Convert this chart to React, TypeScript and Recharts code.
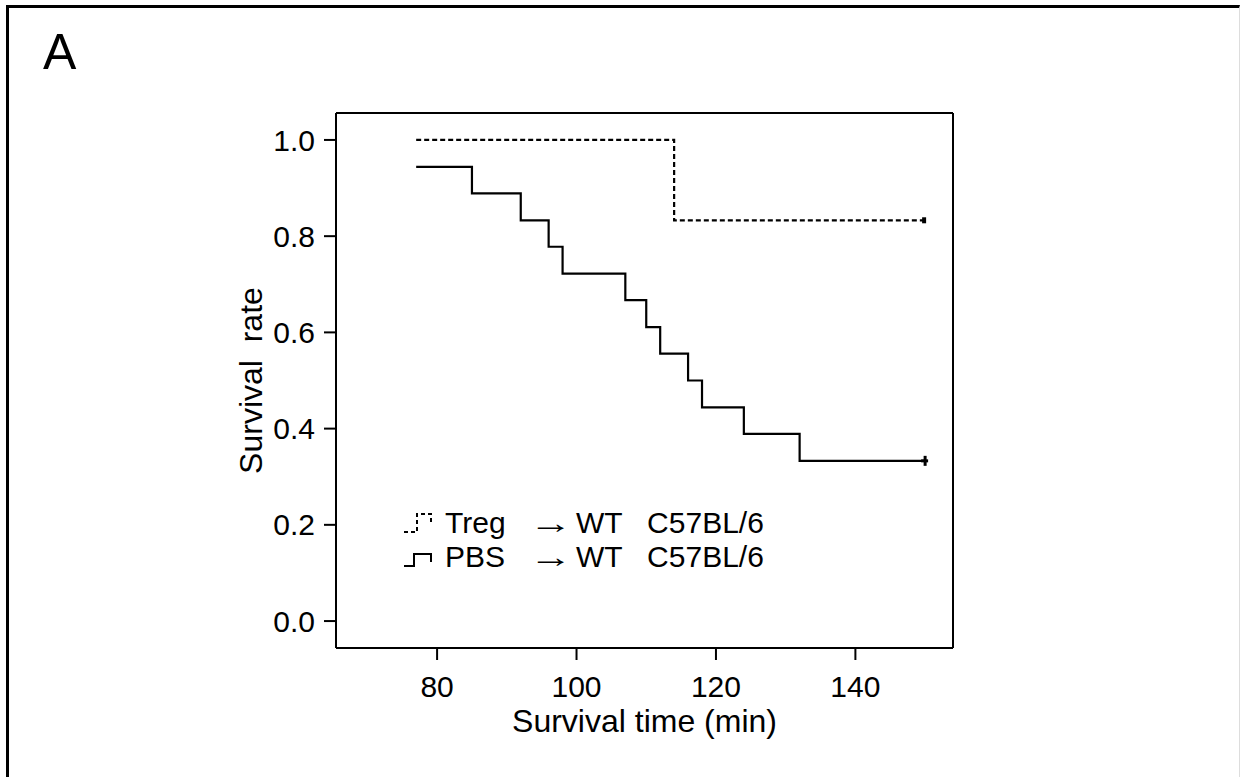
import React from 'react';
import { LineChart, Line, XAxis, YAxis, Legend, ReferenceLine } from 'recharts';

// ---- data ----
const pbsTime = [77, 85, 92, 96, 98, 107, 110, 112, 116, 118, 124, 132, 150];
const pbsSurvival = [0.944, 0.889, 0.833, 0.778, 0.722, 0.667, 0.611, 0.556, 0.5, 0.444, 0.389, 0.333, 0.333];
const tregTime = [77, 114, 150];
const tregSurvival = [1.0, 0.833, 0.833];
const xTicks = [80, 100, 120, 140];
const yTicks = [0, 0.2, 0.4, 0.6, 0.8, 1.0];
const seriesNames = ['Treg', 'PBS'];
const recipientLabel = 'WT   C57BL/6';
const xTitle = 'Survival time (min)';
const yTitle = 'Survival  rate';
const panelLabel = 'A';

const pbsData = pbsTime.map((t, i) => ({ t, s: pbsSurvival[i] }));
const tregData = tregTime.map((t, i) => ({ t, s: tregSurvival[i] }));

const FONT = '"Liberation Sans", Arial, Helvetica, sans-serif';
const X_DOMAIN: [number, number] = [65.5, 154];
const Y_DOMAIN: [number, number] = [-0.056, 1.056];

const tregDot = (p: any) =>
  p.index === tregData.length - 1 ? (
    <rect key={`td${p.index}`} x={p.cx - 3} y={p.cy - 3} width={4} height={6} fill="#000" />
  ) : (
    <g key={`td${p.index}`} />
  );

const pbsDot = (p: any) =>
  p.index === pbsData.length - 1 ? (
    <g key={`pd${p.index}`}>
      <line x1={p.cx} x2={p.cx} y1={p.cy - 5} y2={p.cy + 5} stroke="#000" strokeWidth={3} />
      <line x1={p.cx - 4} x2={p.cx + 3} y1={p.cy} y2={p.cy} stroke="#000" strokeWidth={3} />
    </g>
  ) : (
    <g key={`pd${p.index}`} />
  );

const LegendIcon = ({ dashed }: { dashed: boolean }) =>
  dashed ? (
    <svg width={30} height={24} style={{ display: 'block' }}>
      <path d="M1,21 H14 V3 H28 V12" fill="none" stroke="#000" strokeWidth={2} strokeDasharray="4 3" />
    </svg>
  ) : (
    <svg width={30} height={24} style={{ display: 'block' }}>
      <path d="M1,21 H11 V9 H28 V17" fill="none" stroke="#000" strokeWidth={2} />
    </svg>
  );

const renderLegend = (props: any) => {
  const payload = [...(props.payload || [])].sort(
    (a: any, b: any) => seriesNames.indexOf(a.value) - seriesNames.indexOf(b.value)
  );
  return (
    <div style={{ fontFamily: FONT, fontSize: 30, color: '#000', lineHeight: '34px' }}>
      {payload.map((e: any) => (
        <div key={e.value} style={{ display: 'flex', alignItems: 'center', height: 34 }}>
          <div style={{ width: 42 }}>
            <LegendIcon dashed={e.value === seriesNames[0]} />
          </div>
          <span style={{ display: 'inline-block', width: 84 }}>{e.value}</span>
          <span style={{ display: 'inline-block', width: 47 }}>
            <span style={{ display: 'inline-block', transform: 'scaleX(1.45)', transformOrigin: 'left center' }}>→</span>
          </span>
          <span style={{ whiteSpace: 'pre' }}>{recipientLabel}</span>
        </div>
      ))}
    </div>
  );
};

const XTitle = (props: any) => {
  const vb = props.viewBox || { x: 336, width: 617, y: 648 };
  return (
    <text x={vb.x + vb.width / 2} y={732} textAnchor="middle" fontSize={32} fill="#000" fontFamily={FONT}>
      {xTitle}
    </text>
  );
};

const YTitle = (props: any) => {
  const vb = props.viewBox || { y: 113, height: 535 };
  const cy = vb.y + vb.height / 2;
  return (
    <text
      x={262}
      y={cy}
      transform={`rotate(-90, 262, ${cy})`}
      textAnchor="middle"
      fontSize={32}
      fill="#000"
      fontFamily={FONT}
      style={{ whiteSpace: 'pre' }}
    >
      {yTitle}
    </text>
  );
};

export default function App() {
  const axisStroke = { stroke: '#000', strokeWidth: 2 };
  return (
    <div style={{ position: 'absolute', left: 0, top: 0, width: 1243, height: 777, background: '#fff', fontFamily: FONT }}>
      <div
        style={{
          position: 'absolute',
          left: 6,
          top: 5,
          width: 1234,
          height: 780,
          borderLeft: '3px solid #000',
          borderTop: '3px solid #000',
          borderRight: '1px solid #ddd',
          boxSizing: 'border-box',
        }}
      />
      <div style={{ position: 'absolute', left: 43, top: 27, fontSize: 50, lineHeight: '50px', color: '#000' }}>{panelLabel}</div>
      <div style={{ position: 'absolute', left: 0, top: 0 }}>
        <LineChart width={1243} height={777} margin={{ top: 113, right: 290, bottom: 49, left: 236 }}>
          <XAxis
            type="number"
            dataKey="t"
            domain={X_DOMAIN}
            allowDataOverflow
            ticks={xTicks}
            height={80}
            tickSize={12}
            tickMargin={16}
            tick={{ fill: '#000', fontSize: 30, fontFamily: FONT }}
            tickLine={axisStroke}
            axisLine={axisStroke}
            label={XTitle}
          />
          <YAxis
            type="number"
            domain={Y_DOMAIN}
            allowDataOverflow
            ticks={yTicks}
            width={100}
            tickSize={12}
            tickMargin={9}
            tickFormatter={(v: number) => v.toFixed(1)}
            tick={{ fill: '#000', fontSize: 30, fontFamily: FONT }}
            tickLine={axisStroke}
            axisLine={axisStroke}
            label={YTitle}
          />
          <ReferenceLine y={Y_DOMAIN[1]} stroke="#000" strokeWidth={2} ifOverflow="visible" />
          <ReferenceLine x={X_DOMAIN[1]} stroke="#000" strokeWidth={2} ifOverflow="visible" />
          <Legend
            layout="vertical"
            align="center"
            verticalAlign="middle"
            content={renderLegend}
            wrapperStyle={{ left: 403, top: 506, width: 440, height: 68 }}
          />
          <Line
            data={tregData}
            dataKey="s"
            name={seriesNames[0]}
            type="stepAfter"
            stroke="#000"
            strokeWidth={2.2}
            strokeDasharray="5 3"
            dot={tregDot}
            activeDot={false}
            isAnimationActive={false}
          />
          <Line
            data={pbsData}
            dataKey="s"
            name={seriesNames[1]}
            type="stepAfter"
            stroke="#000"
            strokeWidth={2.2}
            dot={pbsDot}
            activeDot={false}
            isAnimationActive={false}
          />
        </LineChart>
      </div>
    </div>
  );
}
